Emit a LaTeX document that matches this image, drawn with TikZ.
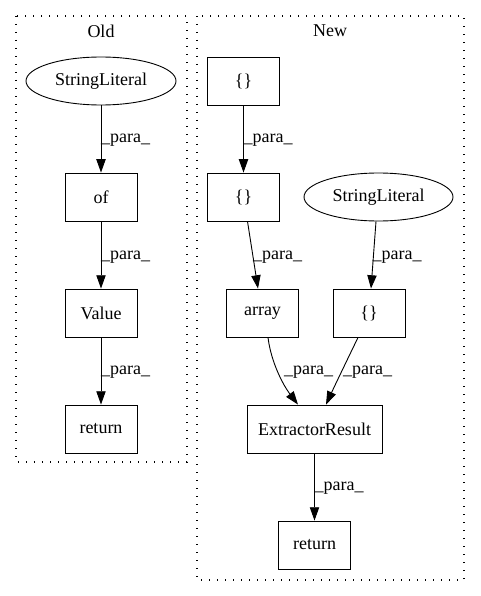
\documentclass[tikz,border=0pt]{standalone}
\usepackage{fontspec}
\setmainfont{Liberation Serif}
\usetikzlibrary{arrows.meta,shapes.geometric}
\begin{document}
\begin{tikzpicture}[x=1pt,y=-1pt,
  every node/.style={font=\fontsize{18}{21}\selectfont},
  box/.style={draw,line width=0.9pt,rectangle,minimum width=72pt,minimum height=48pt,inner sep=0pt},
  oval/.style={draw,line width=0.9pt,ellipse,minimum width=150pt,minimum height=48pt,inner sep=0pt},
  edge/.style={line width=0.9pt,-{Triangle[length=13.3pt,width=9.3pt]}},
  lbl/.style={anchor=west,inner sep=0pt},
  cluster/.style={line width=1.3pt,dash pattern=on 1.3pt off 6.7pt}
]
\useasboundingbox (0,0) rectangle (480,596);
\fill[white] (0,0) rectangle (480,596);
% clusters
\draw[cluster] (16,16) rectangle (187,462);
\draw[cluster] (197,16) rectangle (464,580);
\node (oldt) at (101,31) {Old};
\node (newt) at (330,31) {New};
% Old nodes
\node[oval] (osl) at (101,81) {StringLiteral};
\node[box] (oof) at (101,197) {of};
\node[box] (oval) at (101,313) {Value};
\node[box] (oret) at (101,429) {return};
% New nodes
\node[box] (b1) at (243.5,81) {\{\}};
\node[box] (b2) at (243.5,197) {\{\}};
\node[oval,minimum width=149pt] (nsl) at (378.5,197) {StringLiteral};
\node[box] (arr) at (262.5,313) {array};
\node[box] (b3) at (369,313) {\{\}};
\node[box,minimum width=135pt] (er) at (314.5,429) {ExtractorResult};
\node[box] (nret) at (314.5,545) {return};
% Old edges
\draw[edge] (osl) -- (oof);
\draw[edge] (oof) -- (oval);
\draw[edge] (oval) -- (oret);
\node[lbl] (l1) at (101,140) {\_para\_};
\node[lbl] (l2) at (101,257) {\_para\_};
\node[lbl] (l3) at (101,372) {\_para\_};
% New edges
\draw[edge] (b1) -- (b2);
\draw[edge] ([xshift=4pt]b2.south) -- ([xshift=-4.5pt]arr.north);
\draw[edge] ([xshift=-2.5pt]nsl.south) -- ([xshift=2pt]b3.north);
\draw[edge] ([xshift=5.5pt]arr.south) .. controls (271,362) and (283,385) .. ([xshift=-16.5pt]er.north);
\draw[edge] ([xshift=-11pt]b3.south) .. controls (351,352) and (336,383) .. ([xshift=11.5pt]er.north);
\draw[edge] (er) -- (nret);
\node[lbl] (l4) at (243.5,140) {\_para\_};
\node[lbl] (l5) at (253,257) {\_para\_};
\node[lbl] (l6) at (372.5,257) {\_para\_};
\node[lbl] (l7) at (284,372) {\_para\_};
\node[lbl] (l8) at (343,372) {\_para\_};
\node[lbl] (l9) at (314.5,488) {\_para\_};
\end{tikzpicture}
\end{document}
